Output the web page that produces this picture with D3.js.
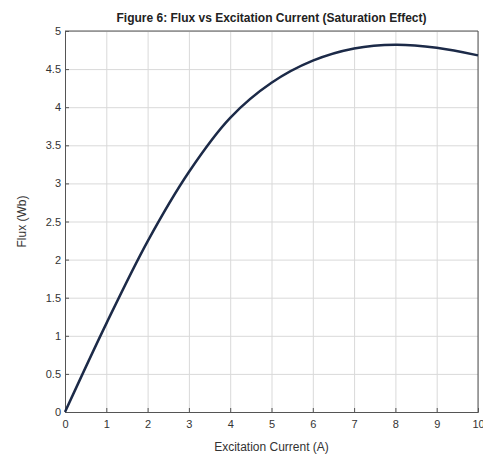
<!DOCTYPE html>
<html>
<head>
<meta charset="utf-8">
<script src="https://cdn.jsdelivr.net/npm/d3@7"></script>
<style>
  body { margin: 0; background: #fff; }
  svg { font-family: "Liberation Sans", Arial, sans-serif; }
  .grid line { stroke: #d9d9d9; stroke-width: 1; }
  .grid path { display: none; }
  .axis path, .axis line { stroke: #555; }
  .axis text { fill: #333; font-size: 11px; }
</style>
</head>
<body>
<svg id="svg1"></svg>
<script>
const current = [0, 1, 2, 3, 4, 5, 6, 7, 8, 9, 10];
const flux = [0, 1.16, 2.24, 3.15, 3.86, 4.32, 4.61, 4.77, 4.82, 4.78, 4.68];
const xTicks = [0, 1, 2, 3, 4, 5, 6, 7, 8, 9, 10];
const yTicks = [0, 0.5, 1, 1.5, 2, 2.5, 3, 3.5, 4, 4.5, 5];

const W = 483, H = 459;
const marginLeft = 65, marginRight = 5, marginTop = 31, marginBottom = 47;
const width = W - marginLeft - marginRight;
const height = H - marginTop - marginBottom;

const svg = d3.select("#svg1")
    .attr("width", W)
    .attr("height", H);

const xScale = d3.scaleLinear().domain([0, 10]).range([0, width]);
const yScale = d3.scaleLinear().domain([0, 5]).range([height, 0]);

const chart = svg.append("g")
    .attr("transform", `translate(${marginLeft}, ${marginTop})`);

// grid
chart.append("g")
    .attr("class", "grid")
    .attr("transform", `translate(0, ${height})`)
    .call(d3.axisBottom(xScale).tickValues(xTicks).tickSize(-height).tickFormat(""));

chart.append("g")
    .attr("class", "grid")
    .call(d3.axisLeft(yScale).tickValues(yTicks).tickSize(-width).tickFormat(""));

// axes
chart.append("g")
    .attr("class", "axis")
    .attr("transform", `translate(0, ${height})`)
    .call(d3.axisBottom(xScale).tickValues(xTicks).tickSize(-4).tickPadding(8).tickFormat(d3.format("d")));

chart.append("g")
    .attr("class", "axis")
    .call(d3.axisLeft(yScale).tickValues(yTicks).tickSize(-4).tickPadding(4).tickFormat(d => d));

// box top/right
chart.append("line")
    .attr("x1", 0).attr("x2", width).attr("y1", 0).attr("y2", 0)
    .attr("stroke", "#555");
chart.append("line")
    .attr("x1", width).attr("x2", width).attr("y1", 0).attr("y2", height)
    .attr("stroke", "#555");

const line = d3.line()
    .x((d, i) => xScale(current[i]))
    .y(d => yScale(d))
    .curve(d3.curveCatmullRom);

chart.append("path")
    .datum(flux)
    .attr("fill", "none")
    .attr("stroke", "#1c2a48")
    .attr("stroke-width", 2.5)
    .attr("d", line);

svg.append("text")
    .attr("x", marginLeft + width / 2)
    .attr("y", 22)
    .attr("text-anchor", "middle")
    .attr("font-size", 12)
    .attr("font-weight", "bold")
    .attr("fill", "#222")
    .text("Figure 6: Flux vs Excitation Current (Saturation Effect)");

svg.append("text")
    .attr("x", marginLeft + width / 2)
    .attr("y", 451)
    .attr("text-anchor", "middle")
    .attr("font-size", 12)
    .attr("fill", "#333")
    .text("Excitation Current (A)");

svg.append("text")
    .attr("transform", `translate(26, ${marginTop + height / 2}) rotate(-90)`)
    .attr("text-anchor", "middle")
    .attr("font-size", 12)
    .attr("fill", "#333")
    .text("Flux (Wb)");
</script>
</body>
</html>
